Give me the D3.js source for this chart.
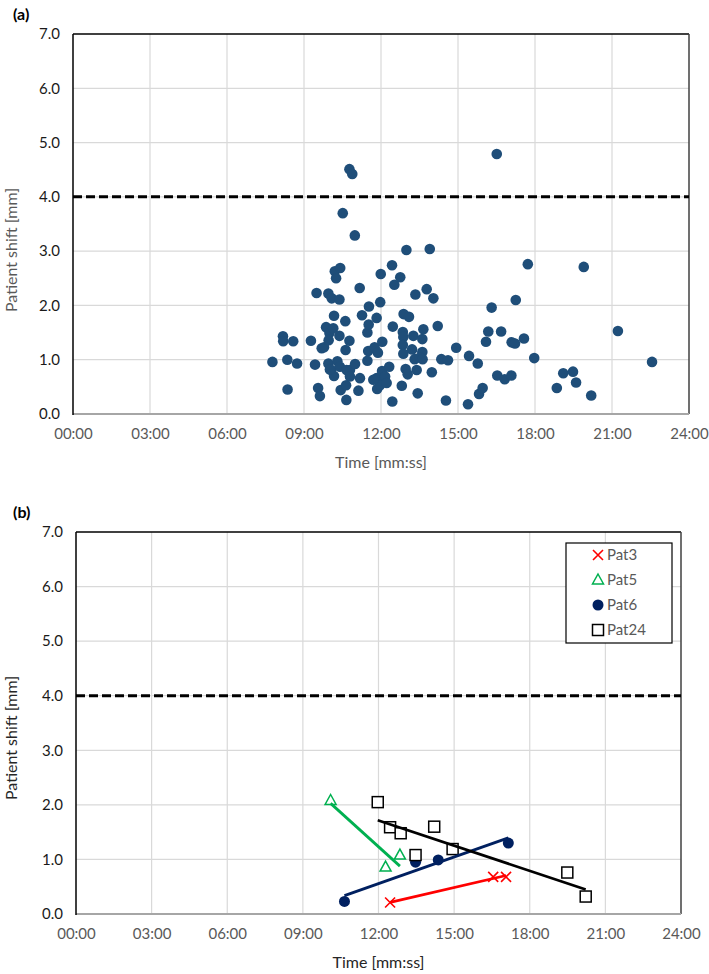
<!DOCTYPE html>
<html><head><meta charset="utf-8">
<script src="https://cdn.jsdelivr.net/npm/d3@7"></script>
<style>
html,body{margin:0;padding:0;background:#fff;}
text{font-family:Lato,"Open Sans",sans-serif;}
</style></head>
<body><svg id="c" width="709" height="974"></svg>
<script>
// ---------- data ----------
const timeTickValues = [0,3,6,9,12,15,18,21,24];
const timeTickLabels = ["00:00","03:00","06:00","09:00","12:00","15:00","18:00","21:00","24:00"];
const shiftTickValues = [0,1,2,3,4,5,6,7];
const threshold = 4.0;

// panel (a): time (minutes) and patient shift (mm)
const timeA = [7.77,8.18,8.19,8.58,8.35,8.73,8.36,
 9.27,9.43,9.49,9.55,9.62,9.69,9.78,9.86,9.95,9.95,9.99,9.96,
 10.08,10.14,10.17,10.20,10.25,10.41,10.38,10.38,10.30,10.06,10.17,10.40,10.43,10.64,10.65,10.51,10.61,10.62,10.77,10.77,10.88,10.98,10.79,10.99,10.01,10.66,10.79,
 11.12,11.18,11.17,11.26,11.47,11.52,11.53,11.50,11.47,11.75,11.83,11.88,11.97,11.99,12.05,11.83,11.85,12.04,12.14,12.32,12.16,11.96,11.70,12.22,
 12.43,12.52,12.75,12.46,12.44,12.81,12.88,13.09,12.85,12.87,12.85,12.87,12.99,12.96,13.04,13.21,13.26,13.34,13.39,13.43,13.31,
 13.61,13.65,13.61,13.52,13.62,13.78,13.90,14.04,13.98,14.21,14.35,14.61,14.53,14.93,15.43,15.39,15.77,15.82,15.96,
 16.09,16.18,16.31,16.51,16.68,16.53,16.82,17.08,17.09,17.22,17.25,17.57,17.72,17.97,18.85,19.10,19.48,19.60,19.90,20.19,21.23,22.56];
const shiftA = [0.96,1.43,1.34,1.34,1.00,0.93,0.45,
 1.35,0.91,2.23,0.48,0.33,1.21,1.23,1.60,2.22,0.93,1.49,1.36,
 2.13,1.58,1.81,2.63,2.50,2.69,2.11,1.44,0.97,0.81,0.70,0.87,0.44,0.53,0.26,3.70,1.71,1.18,1.35,4.51,4.42,3.29,0.81,0.92,0.82,0.81,0.69,
 0.43,0.66,2.32,1.82,1.50,1.65,1.98,1.16,0.98,1.23,1.77,1.13,2.06,2.58,1.33,0.66,0.46,0.79,0.63,0.87,0.69,0.53,0.63,0.57,
 2.74,2.38,2.52,1.61,0.23,0.52,1.84,1.79,1.51,1.42,1.27,1.11,3.02,0.83,0.73,1.19,1.44,2.20,0.81,0.38,1.01,
 1.38,1.56,1.14,1.04,1.01,2.30,3.04,2.13,0.77,1.62,1.01,0.99,0.25,1.22,1.07,0.18,0.93,0.37,0.48,
 1.33,1.52,1.96,4.79,1.52,0.71,0.64,0.71,1.32,1.30,2.10,1.39,2.76,1.03,0.48,0.75,0.78,0.58,2.71,0.34,1.53,0.96];

// panel (b): selected patients
const patNames = ["Pat3","Pat5","Pat6","Pat24"];
const pat3Time = [12.46,16.55,17.06];
const pat3Shift = [0.21,0.68,0.68];
const pat5Time = [10.10,12.85,12.28];
const pat5Shift = [2.08,1.08,0.86];
const pat6Time = [10.65,13.47,14.37,17.15];
const pat6Shift = [0.23,0.95,0.99,1.30];
const pat24Time = [11.97,12.46,12.88,14.21,13.47,14.94,19.49,20.22];
const pat24Shift = [2.05,1.59,1.48,1.60,1.08,1.19,0.76,0.32];

// ---------- drawing ----------
const svg = d3.select("#c");
const fmtTime = (d) => timeTickLabels[timeTickValues.indexOf(d)];

function panel(cfg){
  const g = svg.append("g");
  const x = d3.scaleLinear().domain([0,24]).range([cfg.left,cfg.right]);
  const y = d3.scaleLinear().domain([0,7]).range([cfg.bottom,cfg.top]);
  // grid
  g.append("g").selectAll("line.v").data(timeTickValues.slice(1,-1)).join("line")
    .attr("x1",d=>x(d)).attr("x2",d=>x(d)).attr("y1",cfg.top).attr("y2",cfg.bottom)
    .attr("stroke","#d9d9d9").attr("stroke-width",1.2);
  g.append("g").selectAll("line.h").data(shiftTickValues.slice(1,-1)).join("line")
    .attr("x1",cfg.left).attr("x2",cfg.right).attr("y1",d=>y(d)).attr("y2",d=>y(d))
    .attr("stroke","#d9d9d9").attr("stroke-width",1.2);
  // border
  g.append("line").attr("x1",cfg.left).attr("x2",cfg.right).attr("y1",cfg.top).attr("y2",cfg.top).attr("stroke","#000").attr("stroke-width",1.5);
  g.append("line").attr("x1",cfg.right).attr("x2",cfg.right).attr("y1",cfg.top).attr("y2",cfg.bottom).attr("stroke","#404040").attr("stroke-width",1.5);
  g.append("line").attr("x1",cfg.left).attr("x2",cfg.right).attr("y1",cfg.bottom).attr("y2",cfg.bottom).attr("stroke","#a6a6a6").attr("stroke-width",2);
  g.append("line").attr("x1",cfg.left).attr("x2",cfg.left).attr("y1",cfg.top).attr("y2",cfg.bottom+1).attr("stroke","#000").attr("stroke-width",1.5);
  // axes labels
  const yAxis = d3.axisLeft(y).tickValues(shiftTickValues).tickFormat(d3.format(".1f")).tickSize(0).tickPadding(13);
  const ya = g.append("g").attr("transform",`translate(${cfg.left},0)`).call(yAxis);
  ya.select(".domain").remove();
  ya.selectAll("text").attr("font-size",15).attr("fill","#1a1a1a").attr("font-family","Lato");
  const xAxis = d3.axisBottom(x).tickValues(timeTickValues).tickFormat(fmtTime).tickSize(0).tickPadding(14);
  const xa = g.append("g").attr("transform",`translate(0,${cfg.bottom})`).call(xAxis);
  xa.select(".domain").remove();
  xa.selectAll("text").attr("font-size",15).attr("fill","#595959").attr("font-family","Lato");
  // threshold
  g.append("line").attr("x1",cfg.left).attr("x2",cfg.right).attr("y1",y(threshold)).attr("y2",y(threshold))
    .attr("stroke","#000").attr("stroke-width",3).attr("stroke-dasharray","9,4");
  // titles
  g.append("text").attr("x",13).attr("y",cfg.top-14).attr("font-size",16).attr("font-weight","bold").attr("fill","#000").text(cfg.tag);
  g.append("text").attr("transform",`translate(${cfg.ytx},${cfg.yty}) rotate(-90)`).attr("text-anchor","middle")
    .attr("font-size",16).attr("fill",cfg.titleColor).text("Patient shift [mm]");
  g.append("text").attr("x",(cfg.left+cfg.right)/2).attr("y",cfg.bottom+54).attr("text-anchor","middle")
    .attr("font-size",16).attr("fill",cfg.titleColor).text("Time [mm:ss]");
  return {g,x,y};
}

// panel (a)
const A = panel({left:73,right:689,top:34,bottom:414,tag:"(a)",titleColor:"#595959",ytx:17,yty:250});
A.g.append("g").selectAll("circle").data(d3.zip(timeA,shiftA)).join("circle")
  .attr("cx",d=>A.x(d[0])).attr("cy",d=>A.y(d[1])).attr("r",5.3).attr("fill","#1f4e79");

// panel (b)
const B = panel({left:76,right:681,top:532,bottom:914,tag:"(b)",titleColor:"#262626",ytx:17,yty:738});

function fit(ts,vs){
  const mt=d3.mean(ts), mv=d3.mean(vs);
  let sxy=0,sxx=0;
  ts.forEach((t,i)=>{sxy+=(t-mt)*(vs[i]-mv); sxx+=(t-mt)*(t-mt);});
  const b=sxy/sxx, a=mv-b*mt;
  const t0=d3.min(ts), t1=d3.max(ts);
  return [[t0,a+b*t0],[t1,a+b*t1]];
}
const series = [
  {name:patNames[0],t:pat3Time,v:pat3Shift,color:"#ff0000",shape:"x"},
  {name:patNames[1],t:pat5Time,v:pat5Shift,color:"#00b050",shape:"tri"},
  {name:patNames[2],t:pat6Time,v:pat6Shift,color:"#002060",shape:"dot"},
  {name:patNames[3],t:pat24Time,v:pat24Shift,color:"#000000",shape:"sq"}
];
function marker(sel,shape,color){
  if(shape==="x"){
    sel.append("path").attr("d","M-5,-5L5,5M-5,5L5,-5").attr("stroke",color).attr("stroke-width",1.6).attr("fill","none");
  } else if(shape==="tri"){
    sel.append("path").attr("d","M0,-6L5.5,4L-5.5,4Z").attr("stroke",color).attr("stroke-width",1.5).attr("fill","#fff");
  } else if(shape==="dot"){
    sel.append("circle").attr("r",5.5).attr("fill",color);
  } else {
    sel.append("rect").attr("x",-5.5).attr("y",-5.5).attr("width",11).attr("height",11).attr("stroke",color).attr("stroke-width",1.5).attr("fill","#fff");
  }
}
const line = d3.line().x(d=>B.x(d[0])).y(d=>B.y(d[1]));
// markers
series.forEach(s=>{
  d3.zip(s.t,s.v).forEach(p=>{
    const m = B.g.append("g").attr("transform",`translate(${B.x(p[0])},${B.y(p[1])})`);
    marker(m,s.shape,s.color);
  });
});
// trend lines (least squares per patient)
series.forEach(s=>{
  B.g.append("path").attr("d",line(fit(s.t,s.v))).attr("stroke",s.color).attr("stroke-width",2.8).attr("fill","none");
});
// legend
const lg = B.g.append("g");
lg.append("rect").attr("x",566).attr("y",543).attr("width",106).attr("height",100).attr("fill","#fff").attr("stroke","#000").attr("stroke-width",1.2);
series.forEach((s,i)=>{
  const yy = 555 + i*25;
  const m = lg.append("g").attr("transform",`translate(598,${yy})`);
  marker(m,s.shape,s.color);
  lg.append("text").attr("x",607).attr("y",yy+5).attr("font-size",15).attr("fill","#595959").text(s.name);
});
</script></body></html>
